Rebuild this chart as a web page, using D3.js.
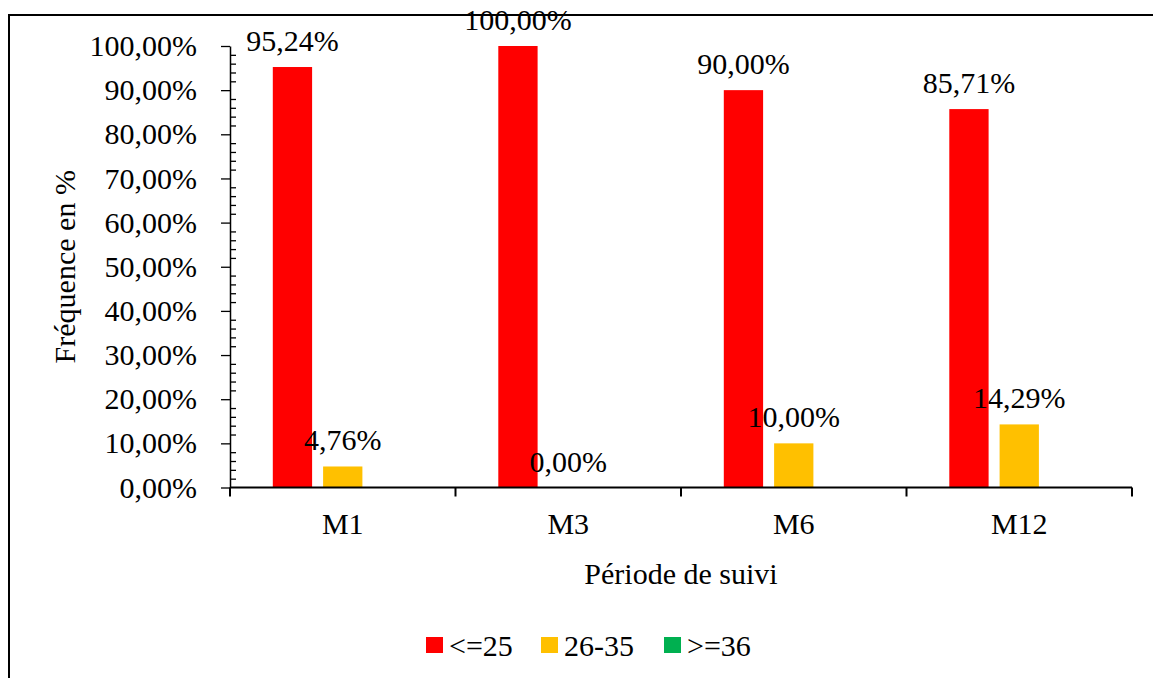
<!DOCTYPE html>
<html>
<head>
<meta charset="utf-8">
<script src="https://cdn.jsdelivr.net/npm/d3@7"></script>
<style>
  html, body { margin: 0; padding: 0; background: #fff; }
  svg { display: block; }
</style>
</head>
<body>
<svg id="chart" width="1153" height="678"></svg>
<script>
// Follow-up periods and frequency by group
const categories = ["M1", "M3", "M6", "M12"];
const seriesNames = ["<=25", "26-35", ">=36"];
const seriesColors = ["#FF0000", "#FFC000", "#00B050"];
const valuesLe25 = [95.24, 100.00, 90.00, 85.71];
const values26to35 = [4.76, 0.00, 10.00, 14.29];
const valuesGe36 = [null, null, null, null];
const yTicks = [0, 10, 20, 30, 40, 50, 60, 70, 80, 90, 100];

const seriesValues = [valuesLe25, values26to35, valuesGe36];

const svg = d3.select("#chart");
const fontSize = 30;
const serif = "Liberation Serif, Times New Roman, Times, Tinos, Noto Serif, DejaVu Serif, FreeSerif, serif";
svg.attr("font-family", serif).style("font-family", serif);

// outer frame
svg.append("rect")
  .attr("x", 9).attr("y", 15)
  .attr("width", 1160).attr("height", 700)
  .attr("fill", "none").attr("stroke", "#000").attr("stroke-width", 2);

const plot = { left: 230, right: 1132, top: 46, bottom: 487.5 };

const x = d3.scaleBand().domain(categories).range([plot.left, plot.right]).padding(0);
const y = d3.scaleLinear().domain([0, 100]).range([plot.bottom, plot.top]);

// bars inside each category: 3 slots, fixed width with gaps
const barW = 39.3, barGap = 11;
const groupW = seriesNames.length * barW + (seriesNames.length - 1) * barGap;
const inner = d3.scaleBand().domain(seriesNames.map((d, i) => i))
  .range([0, groupW]).paddingInner(barGap / (barW + barGap)).paddingOuter(0);

const fmt = v => v.toFixed(2).replace(".", ",") + "%";

const g = svg.append("g");

categories.forEach((cat, ci) => {
  const gx = x(cat) + (x.bandwidth() - groupW) / 2;
  seriesValues.forEach((vals, si) => {
    const v = vals[ci];
    if (v === null) return;
    const bx = gx + inner(si);
    g.append("rect")
      .attr("x", bx).attr("y", y(v))
      .attr("width", inner.bandwidth())
      .attr("height", y(0) - y(v))
      .attr("fill", seriesColors[si]);
  });
});

// y axis: major ticks outward, minor ticks inward
const yAxis = d3.axisLeft(y).tickValues(yTicks).tickSize(9).tickSizeOuter(0)
  .tickFormat(d => d.toFixed(2).replace(".", ",") + "%").tickPadding(24);
const yg = svg.append("g").attr("transform", `translate(${plot.left},0)`).call(yAxis);
yg.attr("font-family", serif).attr("font-size", fontSize);
yg.select(".domain").attr("stroke", "#000").attr("stroke-width", 1.5);
yg.selectAll(".tick line").attr("stroke", "#000").attr("stroke-width", 1.3);
yg.selectAll(".tick text").attr("fill", "#000");

const minorTicks = d3.range(0, 101, 2).filter(v => v % 10 !== 0);
const minorAxis = d3.axisRight(y).tickValues(minorTicks).tickSize(6).tickFormat("");
const mg = svg.append("g").attr("transform", `translate(${plot.left},0)`).call(minorAxis);
mg.select(".domain").remove();
mg.selectAll(".tick line").attr("stroke", "#000").attr("stroke-width", 1.3);

// x axis: category boundaries as ticks
const xAxisLine = svg.append("g");
xAxisLine.append("line")
  .attr("x1", plot.left).attr("x2", plot.right)
  .attr("y1", y(0)).attr("y2", y(0))
  .attr("stroke", "#000").attr("stroke-width", 2);
const bounds = categories.map(c => x(c)).concat([x(categories[categories.length - 1]) + x.bandwidth()]);
xAxisLine.selectAll(".bt").data(bounds).join("line")
  .attr("x1", d => d).attr("x2", d => d)
  .attr("y1", y(0)).attr("y2", y(0) + 9)
  .attr("stroke", "#000").attr("stroke-width", 2);
xAxisLine.selectAll(".cl").data(categories).join("text")
  .attr("x", d => x(d) + x.bandwidth() / 2)
  .attr("y", 534)
  .attr("text-anchor", "middle")
  .attr("font-size", fontSize)
  .text(d => d);

// value labels
categories.forEach((cat, ci) => {
  const gx = x(cat) + (x.bandwidth() - groupW) / 2;
  seriesValues.forEach((vals, si) => {
    const v = vals[ci];
    if (v === null) return;
    const cx = gx + inner(si) + inner.bandwidth() / 2;
    g.append("text")
      .attr("x", cx).attr("y", y(v) - 16)
      .attr("text-anchor", "middle")
      .attr("font-size", fontSize)
      .text(fmt(v));
  });
});

// axis titles
svg.append("text")
  .attr("x", (plot.left + plot.right) / 2).attr("y", 584)
  .attr("text-anchor", "middle").attr("font-size", fontSize)
  .text("Période de suivi");
svg.append("text")
  .attr("transform", `translate(75,${(plot.top + plot.bottom) / 2}) rotate(-90)`)
  .attr("text-anchor", "middle").attr("font-size", fontSize)
  .text("Fréquence en %");

// legend
const legendItems = [
  { name: seriesNames[0], color: seriesColors[0], x: 426 },
  { name: seriesNames[1], color: seriesColors[1], x: 541 },
  { name: seriesNames[2], color: seriesColors[2], x: 664 }
];
const lg = svg.append("g");
legendItems.forEach(it => {
  lg.append("rect").attr("x", it.x).attr("y", 637).attr("width", 17).attr("height", 16).attr("fill", it.color);
  lg.append("text").attr("x", it.x + 23).attr("y", 656).attr("font-size", fontSize).text(it.name);
});
</script>
</body>
</html>
